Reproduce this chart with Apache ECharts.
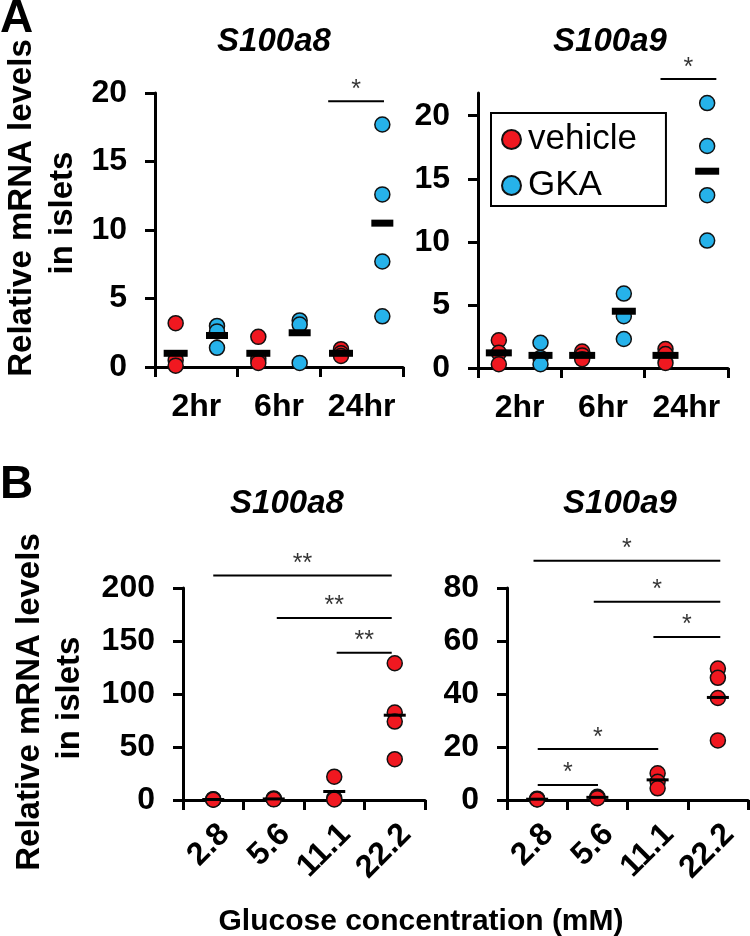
<!DOCTYPE html>
<html>
<head>
<meta charset="utf-8">
<script src="https://cdn.jsdelivr.net/npm/echarts@6/dist/echarts.min.js"></script>
<style>
html, body { margin: 0; padding: 0; background: #fff; }
#chart { width: 750px; height: 936px; }
</style>
</head>
<body>
<div id="chart"></div>
<script>
const FONT = '"Liberation Sans", Arial, sans-serif';
const RED = '#f01820';
const BLUE = '#26b2ea';

// Panel A: islets treated with vehicle or GKA
const timeLabels = ['2hr', '6hr', '24hr'];
const a8Vehicle = [[3.2, 0.5, 0.1], [2.2, 0.6, 0.3], [1.3, 1.0, 0.8]];
const a8VehicleMean = [1.0, 1.0, 1.0];
const a8Gka = [[3.0, 2.6, 1.4], [3.4, 3.1, 0.3], [17.7, 12.6, 7.7, 3.7]];
const a8GkaMean = [2.3, 2.5, 10.5];
const a9Vehicle = [[2.2, 1.2, 0.3], [1.3, 1.0, 0.7], [1.5, 1.1, 0.4]];
const a9VehicleMean = [1.2, 1.0, 1.0];
const a9Gka = [[2.0, 0.8, 0.3], [5.9, 4.1, 2.3], [21.0, 17.6, 13.7, 10.1]];
const a9GkaMean = [1.0, 4.5, 15.6];
const aTicksA8 = [0, 5, 10, 15, 20];
const aTicksA9 = [0, 5, 10, 15, 20];

// Panel B: glucose concentration
const glucoseLabels = ['2.8', '5.6', '11.1', '22.2'];
const b8Dots = [[0.8, 0.5, 0.3], [1.5, 1.0, 0.6], [22, 1.8, 0.5], [129, 82.5, 74, 38.5]];
const b8Mean = [0.5, 1.0, 8, 80];
const b9Dots = [[0.5, 0.3, 0.2], [1.2, 0.9, 0.7], [10.1, 6.9, 4.4], [49.6, 46.1, 38.5, 22.5]];
const b9Mean = [0.3, 1.0, 7.6, 38.7];

// significance bars: [from, to, height, mark]
const a8Sig = [[4.19, 5.54, 19.4, '*']];
const a9Sig = [[4.38, 5.72, 22.9, '*']];
const b8Sig = [[0.5, 3.45, 211.7, '**'], [1.55, 3.45, 171.7, '**'], [2.54, 3.45, 139, '**']];
const b9Sig = [[0.44, 3.54, 90.3, '*'], [1.44, 3.54, 74.8, '*'], [2.43, 3.54, 61.5, '*'],
               [0.51, 2.51, 19.2, '*'], [0.51, 1.51, 5.7, '*']];

const chart = echarts.init(document.getElementById('chart'));

function points(groups, offset, step) {
  let out = [];
  groups.forEach((g, i) => g.forEach(v => out.push([i * step + offset, v])));
  return out;
}
function means(vals, offset, step) {
  return vals.map((v, i) => [i * step + offset, v]);
}
function dotSeries(name, ax, data, color, size) {
  return {
    type: 'scatter', name: name, xAxisIndex: ax * 2 + 1, yAxisIndex: ax,
    data: data, symbolSize: size, clip: false, z: 3,
    itemStyle: { color: color, borderColor: '#111', borderWidth: 1.5, opacity: 1 }
  };
}
function meanSeries(ax, data, size) {
  return {
    type: 'scatter', xAxisIndex: ax * 2 + 1, yAxisIndex: ax,
    data: data, symbol: 'rect', symbolSize: size, clip: false, z: 4,
    itemStyle: { color: '#000', opacity: 1 }
  };
}
function sigSeries(ax, sigs) {
  let list = sigs.map(s => ({
    type: 'line', xAxisIndex: ax * 2 + 1, yAxisIndex: ax,
    data: [[s[0], s[2]], [s[1], s[2]]], symbol: 'none', clip: false, z: 2,
    lineStyle: { color: '#000', width: 2 }
  }));
  list.push({
    type: 'scatter', xAxisIndex: ax * 2 + 1, yAxisIndex: ax, clip: false,
    symbolSize: 0, z: 2,
    data: sigs.map(s => ({ value: [(s[0] + s[1]) / 2, s[2]], mark: s[3] })),
    label: {
      show: true, position: 'top', distance: -1, color: '#000',
      fontSize: 25, fontFamily: FONT, formatter: p => p.data.mark
    }
  });
  return list;
}

const axisLine = { show: true, onZero: false, lineStyle: { color: '#000', width: 3 } };
const axisTick = { show: true, length: 10, lineStyle: { color: '#000', width: 3 } };
const tickFont = { color: '#000', fontSize: 32, fontWeight: 'bold', fontFamily: FONT };

function catAxis(grid, labels, rotate, margin, vAlign) {
  let label = Object.assign({ interval: 0, rotate: rotate, margin: margin }, tickFont);
  if (vAlign) label.verticalAlign = vAlign;
  return {
    type: 'category', gridIndex: grid, data: labels, boundaryGap: true,
    axisLine: axisLine, axisTick: Object.assign({ interval: 0 }, axisTick),
    axisLabel: label,
    splitLine: { show: false }
  };
}
function valXAxis(grid, max) {
  return { type: 'value', gridIndex: grid, min: 0, max: max, show: false };
}
function yAxis(grid, max, interval, ticks) {
  let ax = {
    type: 'value', gridIndex: grid, min: 0, max: max, interval: interval,
    axisLine: axisLine, axisTick: Object.assign({}, axisTick),
    axisLabel: Object.assign({ margin: 28 }, tickFont),
    splitLine: { show: false }
  };
  if (ticks) {
    ax.axisTick.customValues = ticks;
    ax.axisLabel.customValues = ticks;
  }
  return ax;
}

const titleStyle = { color: '#000', fontSize: 33, fontWeight: 'bold', fontStyle: 'italic', fontFamily: FONT };

const option = {
  backgroundColor: '#fff',
  animation: false,
  title: [
    { text: 'S100a8', left: 269, top: 20, textAlign: 'center', textStyle: titleStyle },
    { text: 'S100a9', left: 605, top: 20, textAlign: 'center', textStyle: titleStyle },
    { text: 'S100a8', left: 282, top: 482, textAlign: 'center', textStyle: titleStyle },
    { text: 'S100a9', left: 615, top: 482, textAlign: 'center', textStyle: titleStyle }
  ],
  legend: {
    data: ['vehicle', 'GKA'], orient: 'vertical', left: 491, top: 113,
    padding: [9, 29, 3, 10], itemGap: 11, itemWidth: 19, itemHeight: 19,
    borderColor: '#000', borderWidth: 2, icon: 'circle',
    textStyle: { color: '#000', fontSize: 35, fontFamily: FONT, padding: [0, 0, 0, 2] }
  },
  grid: [
    { left: 155, top: 93, width: 248, height: 274 },
    { left: 478, top: 93, width: 250, height: 275 },
    { left: 183, top: 588, width: 242, height: 212 },
    { left: 507, top: 588, width: 241, height: 212 }
  ],
  xAxis: [
    catAxis(0, timeLabels, 0, 24), valXAxis(0, 6),
    catAxis(1, timeLabels, 0, 24), valXAxis(1, 6),
    catAxis(2, glucoseLabels, 45, 18, 'top'), valXAxis(2, 4),
    catAxis(3, glucoseLabels, 45, 18, 'top'), valXAxis(3, 4)
  ],
  yAxis: [
    yAxis(0, 20, 5, aTicksA8),
    yAxis(1, 21.8, 5, aTicksA9),
    yAxis(2, 200, 50),
    yAxis(3, 80, 20)
  ],
  graphic: [
    { type: 'text', left: 0, top: -4, style: { text: 'A', fontSize: 46, fontWeight: 'bold', fontFamily: FONT, fill: '#000' } },
    { type: 'text', left: 0, top: 462, style: { text: 'B', fontSize: 46, fontWeight: 'bold', fontFamily: FONT, fill: '#000' } },
    { type: 'text', x: 22, y: 208, rotation: Math.PI / 2,
      style: { text: 'Relative mRNA levels', fontSize: 33, fontWeight: 'bold', fontFamily: FONT, fill: '#000', align: 'center', verticalAlign: 'middle' } },
    { type: 'text', x: 63, y: 213, rotation: Math.PI / 2,
      style: { text: 'in islets', fontSize: 33, fontWeight: 'bold', fontFamily: FONT, fill: '#000', align: 'center', verticalAlign: 'middle' } },
    { type: 'text', x: 30, y: 702, rotation: Math.PI / 2,
      style: { text: 'Relative mRNA levels', fontSize: 33, fontWeight: 'bold', fontFamily: FONT, fill: '#000', align: 'center', verticalAlign: 'middle' } },
    { type: 'text', x: 70, y: 698, rotation: Math.PI / 2,
      style: { text: 'in islets', fontSize: 33, fontWeight: 'bold', fontFamily: FONT, fill: '#000', align: 'center', verticalAlign: 'middle' } },
    { type: 'text', x: 421, y: 922,
      style: { text: 'Glucose concentration (mM)', fontSize: 30, fontWeight: 'bold', fontFamily: FONT, fill: '#000', align: 'center', verticalAlign: 'middle' } }
  ],
  series: [].concat(
    dotSeries('vehicle', 0, points(a8Vehicle, 0.5, 2), RED, 15),
    dotSeries('GKA', 0, points(a8Gka, 1.5, 2), BLUE, 15),
    meanSeries(0, means(a8VehicleMean, 0.5, 2), [24, 7]),
    meanSeries(0, means(a8GkaMean, 1.5, 2), [22, 7]),
    sigSeries(0, a8Sig),
    dotSeries('vehicle', 1, points(a9Vehicle, 0.5, 2), RED, 15),
    dotSeries('GKA', 1, points(a9Gka, 1.5, 2), BLUE, 15),
    meanSeries(1, means(a9VehicleMean, 0.5, 2), [26, 7]),
    meanSeries(1, means(a9GkaMean, 1.5, 2), [24, 7]),
    sigSeries(1, a9Sig),
    dotSeries('glucose', 2, points(b8Dots, 0.5, 1), RED, 15),
    meanSeries(2, means(b8Mean, 0.5, 1), [22, 3]),
    sigSeries(2, b8Sig),
    dotSeries('glucose', 3, points(b9Dots, 0.5, 1), RED, 15),
    meanSeries(3, means(b9Mean, 0.5, 1), [22, 3]),
    sigSeries(3, b9Sig)
  )
};
chart.setOption(option);
</script>
</body>
</html>
